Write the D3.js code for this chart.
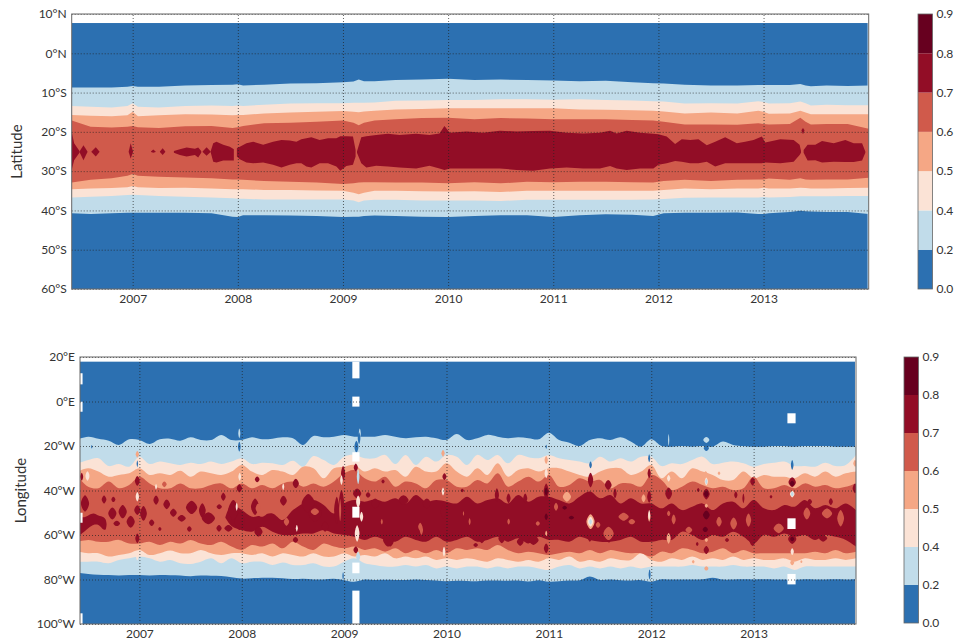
<!DOCTYPE html>
<html>
<head>
<meta charset="utf-8">
<script src="https://cdn.jsdelivr.net/npm/d3@7"></script>
<style>
  html, body { margin: 0; padding: 0; background: #fff; }
  text { font-family: Lato, "Open Sans", sans-serif; fill: #333; }
</style>
</head>
<body>
<div id="chart"></div>
<script>
const levels = ["0.0", "0.2", "0.4", "0.5", "0.6", "0.7", "0.8", "0.9"];
const bandColors = ["#2c70b1", "#c1dcea", "#fbe3d6", "#f5a785", "#d05a4b", "#920d26", "#67001f"];
const yearTicks = [2007, 2008, 2009, 2010, 2011, 2012, 2013];
const latTicks = [10, 0, -10, -20, -30, -40, -50, -60];
const lonTicks = [20, 0, -20, -40, -60, -80, -100];

// top panel, edge of each contour band in degrees latitude
const latYears = [2006.42, 2006.6, 2006.8, 2006.95, 2007, 2007.05, 2007.25, 2007.5, 2007.75, 2007.95,
  2008, 2008.05, 2008.25, 2008.5, 2008.75, 2009, 2009.1, 2009.15, 2009.2, 2009.3,
  2009.5, 2009.75, 2010, 2010.25, 2010.5, 2010.75, 2011, 2011.25, 2011.5, 2011.75,
  2011.95, 2012.05, 2012.25, 2012.5, 2012.75, 2012.95, 2013, 2013.05, 2013.25, 2013.35,
  2013.4, 2013.45, 2013.6, 2013.8, 2014];
const lat02N = [-8.7, -8.7, -8.7, -8.5, -8.3, -8.5, -8.5, -8.2, -8.1, -8.0,
  -7.9, -8.2, -8.0, -7.7, -7.6, -7.4, -7.2, -6.7, -7.1, -7.1,
  -6.8, -6.7, -6.5, -6.8, -6.7, -6.8, -6.9, -7.1, -7.0, -7.4,
  -7.6, -7.7, -8.0, -8.2, -8.2, -8.1, -8.1, -8.1, -8.1, -7.8,
  -8.2, -8.4, -8.2, -8.3, -8.2];
const lat04N = [-13.4, -13.6, -13.8, -13.4, -12.7, -13.6, -13.8, -13.4, -13.3, -13.4,
  -13.3, -13.4, -13.1, -12.8, -12.7, -12.7, -12.6, -12.6, -12.6, -12.5,
  -12.1, -12.0, -11.9, -11.9, -11.7, -11.7, -11.8, -11.7, -11.9, -12.0,
  -12.2, -12.3, -12.8, -12.7, -12.8, -12.2, -12.4, -12.8, -12.7, -12.3,
  -12.7, -13.3, -13.1, -13.2, -13.2];
const lat05N = [-15.7, -15.9, -16.0, -15.8, -14.9, -16.0, -15.8, -15.5, -15.6, -15.8,
  -15.7, -15.7, -15.3, -15.1, -14.9, -14.7, -14.9, -15.0, -14.8, -14.6,
  -14.3, -14.2, -14.0, -14.0, -14.0, -14.0, -14.0, -14.3, -14.4, -14.5,
  -14.6, -14.8, -15.3, -15.1, -15.3, -14.6, -14.9, -15.4, -15.3, -14.6,
  -15.1, -15.5, -15.5, -15.5, -15.5];
const lat06N = [-17.1, -18.7, -18.9, -18.7, -18.5, -18.8, -19.0, -18.6, -18.5, -19.0,
  -18.8, -18.5, -17.8, -17.7, -17.4, -17.1, -17.7, -18.3, -17.7, -17.1,
  -16.8, -16.5, -16.4, -16.8, -16.5, -16.6, -16.8, -16.8, -16.8, -17.0,
  -17.1, -17.4, -18.1, -18.1, -18.2, -17.8, -18.0, -18.1, -18.0, -16.4,
  -17.4, -18.1, -18.0, -18.0, -19.2];
const lat06S = [-32.9, -32.2, -31.8, -31.2, -30.7, -31.2, -31.4, -31.6, -31.8, -32.1,
  -32.1, -32.2, -32.5, -32.7, -32.9, -33.3, -33.1, -32.9, -32.8, -32.8,
  -32.9, -32.9, -33.1, -32.8, -33.1, -32.7, -32.8, -32.7, -32.7, -32.8,
  -32.9, -32.5, -32.2, -32.5, -32.2, -32.1, -32.1, -31.9, -32.2, -31.8,
  -32.1, -32.2, -32.1, -32.1, -31.7];
const lat05S = [-34.6, -34.4, -34.3, -34.1, -33.8, -34.1, -34.3, -34.2, -34.4, -34.6,
  -34.6, -34.6, -34.8, -34.8, -34.9, -35.0, -35.5, -35.9, -35.5, -35.0,
  -35.0, -35.1, -35.2, -35.1, -35.3, -35.0, -35.0, -35.0, -35.0, -35.0,
  -35.0, -34.8, -34.4, -34.6, -34.4, -34.4, -34.2, -34.4, -34.4, -34.2,
  -34.3, -34.4, -34.4, -34.3, -34.2];
const lat04S = [-36.7, -36.5, -36.3, -36.1, -36.0, -36.1, -36.3, -36.5, -36.7, -36.9,
  -37.0, -37.0, -37.2, -37.2, -37.2, -37.2, -37.5, -37.9, -37.5, -37.3,
  -37.3, -37.5, -37.5, -37.5, -37.6, -37.3, -37.3, -37.3, -37.3, -37.3,
  -37.2, -37.1, -36.8, -36.7, -36.7, -36.7, -36.6, -36.7, -36.6, -36.4,
  -36.4, -36.4, -36.4, -36.3, -36.3];
const lat02S = [-40.7, -40.9, -40.7, -40.6, -40.6, -40.6, -40.6, -40.6, -40.7, -41.6,
  -41.7, -41.2, -41.2, -41.3, -41.4, -41.7, -41.6, -41.6, -41.4, -41.3,
  -41.4, -41.6, -41.7, -41.4, -41.2, -41.2, -41.7, -41.2, -41.0, -41.1,
  -41.4, -40.7, -40.6, -40.6, -40.5, -40.9, -40.9, -40.7, -40.4, -40.1,
  -40.2, -40.3, -40.4, -40.4, -40.9];

// top panel, 0.7 contour pieces: [year, north edge, south edge]
const latCoreA = [[6.42, -19.9, -29.7], [6.443, -22.9, -27.2], [6.494, -24.9, -25.3]];
const latCoreB = [[6.494, -25, -25.1], [6.532, -23.4, -27.2], [6.57, -25, -25.1]];
const latCoreC = [[6.608, -25, -25.1], [6.649, -23.9, -26.3], [6.684, -25, -25.1]];
const latCoreD = [[6.962, -25, -25.1], [6.981, -22.9, -26.8], [7.003, -25, -25.1]];
const latCoreE = [[7.174, -25, -25.1], [7.196, -24.5, -25.3], [7.218, -25, -25.1]];
const latCoreF = [[7.259, -25, -25.1], [7.285, -24.2, -25.9], [7.31, -25, -25.1]];
const latCoreG = [[7.392, -24.9, -25.3], [7.449, -24.4, -25.9], [7.513, -24, -26.3], [7.592, -24.3, -25.9], [7.623, -24, -26.5], [7.652, -24.9, -25.3]];
const latCoreH = [[7.665, -25, -25.1], [7.703, -23.9, -26.1], [7.741, -25, -25.1]];
const latCoreI = [[7.741, -25, -25.1], [7.766, -22.9, -27.6], [7.797, -22.5, -27.8], [7.861, -23.3, -27.3], [7.924, -23.8, -27.3], [7.962, -24.4, -27.3]];
const latCoreJ = [[7.991, -24.2, -26.3], [8.019, -23.8, -27], [8.082, -22.9, -27.8], [8.146, -22.5, -28], [8.241, -23.3, -27.8],
  [8.335, -22.5, -28.4], [8.415, -22.1, -29.1], [8.494, -22.2, -28.4], [8.557, -22.5, -28], [8.604, -21.9, -28],
  [8.652, -21.6, -28.8], [8.699, -21.4, -29.1], [8.778, -22.1, -28], [8.858, -21.6, -28], [8.937, -21.6, -28.8],
  [8.975, -21.1, -29.9], [9.032, -21.1, -28.7], [9.095, -21.2, -28.4], [9.12, -24.6, -26.3]];
const latCoreK = [[9.133, -25, -25.3], [9.174, -21.4, -28], [9.222, -21.1, -29.1], [9.316, -20.8, -28.6], [9.427, -20.5, -28.8],
  [9.538, -20.8, -29.1], [9.696, -20.5, -29.3], [9.823, -20.8, -28.6], [9.918, -20.4, -29.3], [9.965, -18.5, -29.7],
  [10.016, -20.2, -29.3], [10.175, -19.9, -29.3], [10.333, -20.2, -29.3], [10.492, -19.7, -29.3], [10.651, -19.9, -29.7],
  [10.81, -19.8, -29.9], [10.968, -19.7, -29.3], [11.127, -20.2, -29.1], [11.286, -20.4, -29.3], [11.444, -20.2, -29.3],
  [11.54, -19.7, -28.7], [11.603, -20.4, -29.3], [11.698, -19.7, -29.7], [11.825, -20.2, -29.3], [11.952, -20.5, -29.3],
  [12, -20.6, -28.4], [12.079, -21.2, -28], [12.159, -23.1, -27.4], [12.222, -21.9, -27.6], [12.302, -22.1, -28],
  [12.381, -21.9, -28], [12.46, -23.4, -27.6], [12.54, -22.5, -28.8], [12.635, -21.4, -28], [12.746, -22.9, -28],
  [12.825, -22.5, -28], [12.905, -22.1, -28], [12.984, -21.2, -28], [13.016, -22.7, -27.8], [13.159, -21.9, -28],
  [13.286, -22.1, -27.6], [13.343, -23.3, -25.9], [13.356, -24.8, -25.3]];
const latCoreL = [[13.381, -24.6, -25.3], [13.419, -23.3, -27.3], [13.492, -23.3, -27.2], [13.556, -22.3, -27.8], [13.667, -22.9, -27.6],
  [13.778, -22.1, -27.7], [13.857, -22.9, -27.7], [13.937, -22.9, -27.3], [13.968, -25, -25.3]];
const latCoreDot = [[13.36, -19.6, -19.6], [13.375, -19, -20.6], [13.39, -19.6, -19.6]];

// bottom panel, contour edges in degrees longitude, every 0.1 year
const lonYears = [2006.4, 2006.5, 2006.6, 2006.7, 2006.8, 2006.9, 2007, 2007.1, 2007.2, 2007.3,
  2007.4, 2007.5, 2007.6, 2007.7, 2007.8, 2007.9, 2008, 2008.1, 2008.2, 2008.3,
  2008.4, 2008.5, 2008.6, 2008.7, 2008.8, 2008.9, 2009, 2009.1, 2009.2, 2009.3,
  2009.4, 2009.5, 2009.6, 2009.7, 2009.8, 2009.9, 2010, 2010.1, 2010.2, 2010.3,
  2010.4, 2010.5, 2010.6, 2010.7, 2010.8, 2010.9, 2011, 2011.1, 2011.2, 2011.3,
  2011.4, 2011.5, 2011.6, 2011.7, 2011.8, 2011.9, 2012, 2012.1, 2012.2, 2012.3,
  2012.4, 2012.5, 2012.6, 2012.7, 2012.8, 2012.9, 2013, 2013.1, 2013.2, 2013.3,
  2013.4, 2013.5, 2013.6, 2013.7, 2013.8, 2013.9, 2014];
const lon02N = [-17, -15.8, -16.7, -17.6, -19.5, -17, -17.3, -19.1, -17, -16.7,
  -17.6, -16.1, -17.3, -17.3, -15, -17.3, -17.3, -16.1, -17, -16.7,
  -16.1, -16.5, -19.5, -15.5, -16.1, -15.8, -15, -15.8, -15.8, -15.8,
  -15, -15.8, -16.5, -16.1, -15.8, -16.5, -17.3, -14.6, -17.3, -16.5,
  -15, -15.8, -16.5, -16.1, -16.5, -17, -14, -17.3, -18.5, -20,
  -17.3, -16.5, -17.3, -16.1, -18, -20.3, -17, -20, -20.3, -20,
  -20.3, -20, -20.3, -18, -19.5, -20, -20.3, -20.3, -20, -20,
  -20.3, -20, -20, -20, -20.3, -20.3, -20.3];
const lon04N = [-27.8, -26.3, -25.5, -29, -28.1, -29.3, -24.8, -28.1, -27, -27.8,
  -28.5, -27.5, -28.1, -27, -28.1, -27, -25.5, -28.1, -27.5, -27.8,
  -28.5, -26.6, -29.3, -24.5, -26.3, -28.5, -24.8, -24, -25.5, -25.5,
  -24, -28.1, -24, -28.5, -24.8, -27, -24, -24.8, -28.5, -24,
  -26.3, -24, -27.8, -24, -25, -25.5, -24, -25.5, -26.3, -27,
  -27.8, -24.8, -27, -25.5, -27, -24.8, -24.8, -29, -27.8, -28.1,
  -26.3, -24.8, -28.1, -27.5, -27, -27.8, -29.3, -28.1, -27.5, -27,
  -29, -29, -29.3, -27.5, -29, -28.5, -24];
const lon05N = [-31.5, -30, -31.5, -33.8, -33, -32.3, -30, -33, -32.3, -33,
  -31.1, -33.8, -31.5, -32.3, -33, -31.5, -28.5, -31.5, -33, -30.8,
  -31.5, -33, -29.3, -30, -34.5, -30, -29.3, -28.5, -31.5, -30,
  -31.5, -30.8, -33.8, -29.3, -31.5, -31.5, -27.8, -31.5, -33.8, -30,
  -33, -27.8, -33.8, -30.8, -30, -31.5, -30, -30, -31.5, -33,
  -33.8, -31.5, -30, -30, -33, -31.5, -28.5, -34.5, -31.5, -34.5,
  -30, -31.5, -33, -35.3, -35.3, -31.5, -34.5, -33, -33.8, -33.8,
  -34.5, -32.3, -33.8, -31.5, -33.8, -32.3, -31.5];
const lon06N = [-33.8, -38.3, -39, -36, -39, -37.5, -33.8, -36.8, -39, -39,
  -36.8, -39, -39, -37.5, -36.8, -39, -36.8, -39, -37.5, -39,
  -36.8, -36, -38.3, -36.8, -38.3, -36, -32.3, -30.8, -34.5, -36,
  -33.8, -38.3, -36, -36.8, -39, -35.3, -35.3, -38.3, -38.3, -35.3,
  -36.8, -32.3, -38.3, -36, -33.8, -36, -33, -38.3, -37.5, -34.5,
  -36, -35.3, -39, -36.8, -36.8, -38.3, -33, -35.3, -39.8, -38.3,
  -36, -37.5, -39, -38.3, -39.8, -39, -33.8, -39, -39, -37.5,
  -39, -36.8, -38.3, -37.5, -39, -38.3, -36.8];
const lon06S = [-63, -62.2, -63, -63, -62.2, -63.8, -63.8, -63, -64.5, -63,
  -63.8, -62.2, -63.8, -64.5, -63, -65.2, -66.7, -64.5, -65.2, -63.8,
  -66, -63, -65.2, -66.7, -63.8, -65.2, -66, -65.2, -66.7, -66,
  -67.5, -66, -68.2, -66.7, -68.2, -66.7, -68.2, -66, -66.7, -66,
  -66.7, -64.5, -66.7, -68.2, -67.5, -68.2, -69, -68.2, -67.5, -68.2,
  -66.7, -68.2, -66.7, -67.5, -68.2, -68.2, -69.7, -67.5, -68.2, -66,
  -66.7, -68.2, -67.5, -66, -68.2, -66.7, -68.2, -68.2, -68.2, -68.2,
  -68.2, -68.2, -67.5, -68.2, -66.7, -68.2, -67.5];
const lon05S = [-67.5, -68.2, -68.2, -69.7, -69, -68.2, -66.7, -69, -68.2, -67,
  -68.2, -68.2, -66.7, -68.2, -69, -68.2, -68.2, -69, -68.2, -69.7,
  -68.2, -69, -69.7, -68.2, -69.7, -69.7, -68.2, -69.7, -69, -69.7,
  -68.2, -70.5, -69.7, -70.5, -69.7, -71.2, -70.5, -71.2, -70.5, -71.2,
  -72, -70.5, -71.2, -72, -71.2, -72, -70.5, -71.2, -69.7, -72,
  -71.2, -72, -70.5, -71.2, -71.2, -68.2, -71.2, -72, -70.5, -71.2,
  -69.7, -71.2, -70.5, -71.2, -69.7, -71.2, -70.5, -71.2, -71.2, -70.5,
  -72, -70.5, -71.2, -71.2, -70.5, -71.2, -70.5];
const lon04S = [-72, -72, -72, -72.7, -71.2, -70.5, -69.7, -70.5, -72, -71.2,
  -72.7, -73, -72, -70.5, -72.7, -70.5, -72.7, -72, -72, -73.5,
  -72.4, -73.5, -73.5, -72.7, -74.2, -74.2, -72, -70.5, -72.7, -73.5,
  -74.2, -74.2, -73.5, -74.2, -73.5, -75, -74.2, -75, -74.2, -74.2,
  -75, -74.2, -75, -74.2, -74.2, -75, -75.7, -74.2, -73.5, -75,
  -74.2, -75, -74.2, -75, -74.2, -75, -74.2, -74.2, -74.2, -74.2,
  -73.5, -74.2, -74.2, -74.2, -73.5, -74.2, -74.2, -74.2, -75, -74.2,
  -75.7, -74.2, -74.2, -74.2, -74.2, -74.2, -74.2];
const lon02S = [-77, -77.5, -77.9, -78, -78.2, -78, -78, -78.2, -78, -78.1,
  -78.2, -78.5, -78.2, -78.3, -78.4, -79, -79.6, -79.4, -79.2, -79.2,
  -79.4, -79.8, -79.7, -80, -80, -79.7, -80.3, -81, -80, -80.2,
  -80.1, -80.2, -80.2, -80, -80.2, -80.5, -80.8, -80.6, -80.7, -80.8,
  -80.5, -80.4, -80.6, -80.5, -80.9, -80.3, -81, -80.8, -80.5, -80.3,
  -78.6, -80.2, -80, -80.3, -80.4, -80.3, -81, -79.9, -80, -80,
  -80, -79.9, -79.2, -80, -80, -79.9, -80, -79.9, -80, -80,
  -80.1, -79.9, -80, -80, -79.9, -80, -79.9];

// bottom panel, 0.7 contour strands: [year, north edge, south edge]
const lonCoreEarly = [[6.42, -51.8, -60], [6.46, -52, -58.5], [6.55, -50.3, -55.5], [6.6, -51.2, -55.5], [6.65, -52, -57.5], [6.67, -53, -57.5], [6.68, -55, -55.1]];
const lonCoreMain = [[7.84, -52, -52.2], [7.9, -46.5, -55.9], [8, -48.8, -57.8], [8.1, -51.8, -58.5], [8.2, -51, -56.3],
  [8.3, -50.3, -58.5], [8.4, -53.3, -60], [8.5, -48.8, -60], [8.6, -45.8, -59.3], [8.7, -44.3, -59.3],
  [8.8, -46.5, -57.8], [8.9, -50.3, -59.3], [9, -45.8, -60], [9.1, -44.3, -60.8], [9.2, -45, -62.2],
  [9.3, -44, -60.8], [9.4, -45, -62.2], [9.5, -43.5, -63], [9.6, -45.8, -60.8], [9.7, -42, -62.2],
  [9.8, -45, -63], [9.9, -44.3, -60.8], [10, -45, -63], [10.1, -45.8, -62.2], [10.2, -42.8, -60.8],
  [10.3, -45.8, -63], [10.4, -44.3, -62.2], [10.5, -43.5, -60.8], [10.6, -45.8, -63], [10.7, -42, -61.5],
  [10.8, -45, -63.8], [10.9, -42.8, -60.8], [11, -42.8, -62.2], [11.1, -44.3, -62.2], [11.2, -45.8, -63],
  [11.3, -42.8, -60.8], [11.4, -40.5, -62.2], [11.5, -43.5, -63], [11.6, -42, -63], [11.7, -45.8, -62.2],
  [11.8, -43.5, -60.8], [11.9, -45.8, -63], [12, -45.8, -63], [12.1, -48, -62.2], [12.2, -45.8, -62.2],
  [12.3, -48.8, -58.5], [12.4, -47.3, -60], [12.5, -45.8, -62.2], [12.6, -48.8, -60], [12.7, -45.8, -60.8],
  [12.8, -45, -58.5], [12.9, -48, -60.8], [13, -44.3, -63.8], [13.1, -48, -60], [13.2, -48.8, -60.8],
  [13.3, -46.5, -59.3], [13.4, -47.3, -60.8], [13.5, -44.3, -60], [13.6, -48, -62.2], [13.7, -46.5, -60],
  [13.8, -48, -60.8], [13.9, -45.8, -62.2], [14, -48.8, -65.2]];

// isolated contour patches: [year, longitude, half width in years, half height in degrees]
const patches07 = [[6.469, -45.8, .04, 3.7], [6.437, -33.8, .014, 1.8], [6.655, -44, .023, 1.8], [6.746, -44, .02, 1.2], [6.736, -50.3, .04, 2.7],
  [6.837, -49.5, .04, 3], [6.779, -54.8, .033, 1.2], [6.915, -54, .04, 2.7], [6.98, -48.8, .03, 2.2], [6.98, -35.7, .023, 2.2], [6.98, -61.5, .02, 2.2],
  [7.04, -50.3, .033, 3.3], [7.163, -44.3, .026, 2.1], [7.267, -46.2, .033, 2.2], [7.332, -50, .033, 1.8], [7.12, -54.5, .026, 1.5],
  [7.413, -52.5, .04, 1.5], [7.2, -57.3, .016, .9], [7.51, -47.6, .055, 3], [7.488, -57.3, .023, 1.2], [7.615, -49, .033, 3.3],
  [7.674, -52.5, .065, 2.7], [7.78, -47.3, .026, 1.1], [7.778, -57, .026, 1.5], [7.82, -42.8, .023, 1.8], [7.87, -57, .04, 1.5],
  [7.918, -48.8, .05, 4.5], [7.98, -54, .05, 3.7], [7.977, -39, .026, 1.8], [8.151, -35, .023, 1.3], [8.13, -47.3, .04, 3.7],
  [8.163, -58.5, .04, 2.2], [8.407, -44.6, .033, 2.2], [8.528, -36.8, .03, 2.1], [8.65, -45.8, .065, 4.2], [8.717, -50.3, .065, 3.7],
  [8.525, -62.2, .026, 1.3], [8.814, -56.3, .033, 2.2], [8.928, -48.8, .026, 6], [8.974, -45.8, .026, 6], [8.99, -32.3, .02, 3.3],
  [9.114, -29.7, .02, 1.8], [9.127, -41.3, .04, 2.2], [9.114, -66.7, .023, 1.5], [9.234, -42, .023, 1.2], [9.303, -45.8, .04, 2.2],
  [9.38, -36, .016, .9], [9.45, -63, .033, 2.2], [9.58, -44.3, .05, 2.2], [9.808, -45.8, .04, 2.2], [9.97, -49.5, .026, 3],
  [9.98, -33.8, .02, 1.5], [9.43, -62.2, .05, 3], [10.154, -40, .016, .8], [10.285, -64.5, .023, .9], [10.345, -61.5, .033, 2.2],
  [10.492, -42, .02, 3], [10.54, -61.5, .033, 2.2], [10.606, -43.5, .02, 2.2], [10.72, -63, .033, 1.8], [10.769, -43.5, .02, 2.2],
  [10.85, -62.3, .05, 2.2], [10.974, -40.5, .026, 3.7], [10.974, -66, .023, 2.2], [11.407, -35.3, .026, 3.3], [11.58, -37.5, .033, 2.2],
  [11.646, -41.3, .016, 2.2], [11.4, -61.5, .02, 1.5], [11.587, -62.2, .016, 1.2], [11.98, -32.3, .016, 2.2], [11.98, -42.8, .02, 2.7],
  [12.17, -41.3, .033, 2.7], [12.459, -39.8, .013, .9], [12.449, -64, .013, .9], [12.538, -41.6, .033, 2.4], [12.538, -66.7, .026, 1.8],
  [12.74, -62.2, .02, .9], [12.826, -42, .016, 1.5], [12.9, -43.5, .01, 2.2], [12.99, -36, .023, 1.8], [12.99, -62.2, .033, 2.7],
  [13.17, -42.8, .013, .8], [13.377, -36.3, .036, 2.2], [13.377, -61.8, .04, 2.2], [13.548, -45, .023, 1.2], [13.754, -45, .02, 1.5],
  [13.679, -61.5, .04, 1.5], [13.99, -39, .023, 2.2]];
const patches06 = [[7.244, -37.2, .023, 1.3], [8.161, -48, .026, 2.2], [8.195, -50.3, .05, 1.5], [8.437, -54, .026, 1.8], [8.714, -49.5, .04, 1.5],
  [8.961, -48.8, .01, 5], [9.368, -54, .01, 1.2], [9.743, -56.3, .02, 1.8], [9.755, -57.8, .016, 2.2], [10.166, -50.3, .006, 1], [10.226, -54, .01, 1.5],
  [10.607, -54, .013, 1.3], [10.892, -54.8, .02, 1], [11.07, -47.3, .02, 1.8], [11.48, -55.5, .023, 1.3], [11.583, -59.3, .05, 3],
  [11.73, -51.8, .05, 1.8], [11.81, -54, .033, 1.2], [12.17, -50.3, .016, 1.2], [12.219, -53, .02, 2.2], [12.367, -57.8, .033, 1.5],
  [12.662, -54, .026, 2.2], [12.805, -54.8, .033, 2.7], [12.95, -53.3, .026, 3], [13.245, -57, .05, 2.2], [13.52, -50.3, .033, 2.7],
  [13.717, -50.3, .05, 2.2], [13.85, -52.5, .033, 3.7]];
const patches08 = [[10.974, -40.5, .016, 1.8], [10.974, -51.8, .016, 1.5], [11.154, -47.7, .023, .9], [11.22, -52.2, .026, .8], [12.528, -57.5, .026, 1.2],
  [12.538, -41.6, .023, 1.5], [12.538, -51, .033, 2], [13.377, -36.8, .023, 1.2], [13.377, -61.8, .02, 1]];
const patches05 = [[6.98, -23.7, .016, 1.5], [9.966, -23.3, .016, 1.5], [10.974, -26.3, .016, 1.8], [10.974, -59.3, .01, 1.2], [11.176, -42.8, .04, 2.2],
  [11.407, -54, .04, 3.3], [11.754, -69.4, .013, .8], [11.925, -43.5, .02, 1.8], [11.98, -51.8, .013, 2.2], [12.17, -61.5, .02, 2.4],
  [12.41, -72, .013, .8], [12.531, -32.3, .016, .9], [12.538, -62.2, .016, .9], [12.538, -46.8, .016, .9], [12.538, -75, .02, 1],
  [12.662, -32.3, .013, .8], [13.3, -69.7, .013, .9], [13.377, -72.4, .02, 1.2], [13.466, -72, .01, .6], [13.99, -27.8, .016, 1.5]];
const patches04 = [[6.493, -33.5, .02, 2.1], [6.98, -42.8, .016, 2.1], [6.98, -69.7, .013, 1.8], [7.163, -38.3, .01, 1.2], [7.951, -47.3, .01, 1.8],
  [7.98, -33.8, .013, 1.8], [8.405, -38.3, .01, 1.5], [8.538, -57, .01, 1.5], [8.974, -35.3, .013, 2.2], [9.127, -59.3, .023, 3.7],
  [9.137, -45, .02, 2.7], [9.17, -51.8, .016, 2.2], [9.966, -40.5, .013, 1.8], [9.976, -67.5, .013, 2.2], [10.974, -32.3, .016, 2.2],
  [10.974, -72.4, .016, 1.8], [11.407, -54, .027, 2.2], [11.98, -51, .01, 2.2], [12.17, -34.5, .016, 1.5], [12.538, -36, .016, 1.8],
  [13.377, -41.6, .023, 1.5], [13.377, -67.5, .016, 1.5]];
const patches02 = [[7.976, -14.3, .01, 2.2], [9.137, -33.8, .013, 3.3], [9.137, -69.7, .02, 2.2], [9.153, -14.3, .01, 2.2], [11.407, -54, .013, 1.2],
  [12.17, -17.3, .006, 2.7], [12.538, -17.3, .03, 1.3], [12.538, -36, .01, 1.2], [13.377, -41.6, .013, 1]];
const patches00 = [[6.535, -20.3, .007, .8], [6.98, -28, .007, 1.5], [7.976, -20.3, .013, 2.2], [8.99, -78.4, .007, 1.8], [9.12, -20.3, .02, 2.7],
  [9.146, -16.5, .013, 2.7], [10.974, -20.3, .007, .9], [11.407, -28.5, .013, 1.5], [11.98, -25.5, .01, 1.8], [11.984, -77.7, .01, 2.2],
  [12.538, -21, .026, 1.2], [13.377, -28.5, .013, 2.2]];

// missing data in the bottom panel: [from year, to year, north, south]
const lonGaps = [[2006.42, 2006.445, 12.7, 7.7], [2006.42, 2006.445, -0.1, -4.6], [2006.42, 2006.445, -50, -54.5], [2006.42, 2006.445, -95.2, -100],
  [2009.08, 2009.15, 17.9, 10.4], [2009.08, 2009.15, 2.2, -2.3], [2009.08, 2009.15, -22.8, -27], [2009.08, 2009.15, -47.3, -52.2],
  [2009.08, 2009.15, -72.4, -77.2], [2009.08, 2009.15, -85, -100],
  [2013.33, 2013.41, -5.3, -9.8], [2013.33, 2013.41, -52.5, -57.3], [2013.33, 2013.41, -77.5, -82.2]];

const svg = d3.select("#chart").append("svg").attr("width", 954).attr("height", 643);

function latLabel(d) {
    if (d > 0) return `${d}°N`;
    if (d === 0) return "0°N";
    return `${-d}°S`;
}

function lonLabel(d) {
    if (d >= 0) return `${d}°E`;
    return `${-d}°W`;
}

function rows(edgeN, edgeS, years) {
    return years.map((t, i) => [t, edgeN[i], edgeS[i]]);
}

function drawPanel(box, yDomain, yTicks, yFormat, title, titleX, id, bandCurve) {
    const x = d3.scaleLinear().domain([2006.42, 2014]).range([box.left, box.right]);
    const y = d3.scaleLinear().domain(yDomain).range([box.top, box.bottom]);
    const g = svg.append("g");

    svg.append("clipPath").attr("id", id).append("rect")
        .attr("x", box.left).attr("y", box.top)
        .attr("width", box.right - box.left).attr("height", box.bottom - box.top);
    const plot = g.append("g").attr("clip-path", `url(#${id})`);

    const band = d3.area()
        .curve(bandCurve)
        .x(d => x(d[0] < 2000 ? d[0] + 2000 : d[0]))
        .y0(d => y(d[1]))
        .y1(d => y(d[2]));

    const addBand = (data, color) => plot.append("path")
        .attr("d", band(data)).attr("fill", color);

    const patchLine = d3.line().curve(d3.curveCatmullRomClosed.alpha(0.5));
    const addPatches = (data, color) => plot.append("g").selectAll("path")
        .data(data).enter().append("path")
        .attr("fill", color)
        .attr("d", d => {
            const t = d[0] + 2000;
            return patchLine([
                [x(t - d[2]), y(d[1])], [x(t), y(d[1] + d[3])],
                [x(t + d[2]), y(d[1])], [x(t), y(d[1] - d[3])]
            ]);
        });

    // grid and tick labels come from the axes
    const drawAxes = () => {
        const xAxis = g.append("g")
            .attr("transform", `translate(0, ${box.bottom})`)
            .call(d3.axisBottom(x).tickValues(yearTicks).tickFormat(d3.format("d"))
                .tickSize(box.top - box.bottom));
        const yAxis = g.append("g")
            .attr("transform", `translate(${box.left}, 0)`)
            .call(d3.axisLeft(y).tickValues(yTicks).tickFormat(yFormat)
                .tickSize(box.left - box.right));
        [xAxis, yAxis].forEach(a => {
            a.select(".domain").remove();
            a.selectAll("line").attr("stroke", "#222").attr("stroke-width", 0.7).attr("stroke-dasharray", "1,2");
            a.selectAll("text").style("font-size", "12px").attr("fill", "#333");
        });
        xAxis.selectAll("text").attr("y", 5).attr("dy", "0.71em");
        yAxis.selectAll("text").attr("x", -5);

        g.append("rect")
            .attr("x", box.left).attr("y", box.top)
            .attr("width", box.right - box.left).attr("height", box.bottom - box.top)
            .attr("fill", "none").attr("stroke", "#666").attr("stroke-width", 1);

        g.append("text")
            .attr("transform", `translate(${titleX}, ${(box.top + box.bottom) / 2}) rotate(-90)`)
            .attr("text-anchor", "middle")
            .style("font-size", "15px")
            .text(title);
    };

    return { x, y, plot, addBand, addPatches, drawAxes };
}

function drawColorbar(left, top, bottom) {
    const y = d3.scalePoint().domain(levels).range([bottom, top]);
    const g = svg.append("g");
    bandColors.forEach((c, i) => {
        g.append("rect")
            .attr("x", left).attr("width", 14.5)
            .attr("y", y(levels[i + 1]))
            .attr("height", y(levels[i]) - y(levels[i + 1]))
            .attr("fill", c);
    });
    g.append("rect")
        .attr("x", left).attr("y", top).attr("width", 14.5).attr("height", bottom - top)
        .attr("fill", "none").attr("stroke", "#666").attr("stroke-width", 0.8);
    const axis = g.append("g")
        .attr("transform", `translate(${left + 14.5}, 0)`)
        .call(d3.axisRight(y).tickSize(0).tickPadding(4));
    axis.select(".domain").remove();
    axis.selectAll("text").style("font-size", "12px").attr("fill", "#333");
}

// top panel
const latPanel = drawPanel({ left: 71.7, right: 868.7, top: 14, bottom: 289 },
    [10, -60], latTicks, latLabel, "Latitude", 22, "clipLat", d3.curveLinear);
latPanel.plot.append("rect")
    .attr("x", latPanel.x(2006.42)).attr("width", latPanel.x(2013.99) - latPanel.x(2006.42))
    .attr("y", latPanel.y(7.7)).attr("height", latPanel.y(-60) - latPanel.y(7.7))
    .attr("fill", bandColors[0]);
latPanel.addBand(rows(lat02N, lat02S, latYears), bandColors[1]);
latPanel.addBand(rows(lat04N, lat04S, latYears), bandColors[2]);
latPanel.addBand(rows(lat05N, lat05S, latYears), bandColors[3]);
latPanel.addBand(rows(lat06N, lat06S, latYears), bandColors[4]);
[latCoreA, latCoreB, latCoreC, latCoreD, latCoreE, latCoreF, latCoreG, latCoreH, latCoreI, latCoreJ, latCoreK, latCoreL, latCoreDot]
    .forEach(piece => latPanel.addBand(piece, bandColors[5]));
latPanel.drawAxes();

// bottom panel
const lonPanel = drawPanel({ left: 80, right: 856, top: 357, bottom: 624 },
    [20, -100], lonTicks, lonLabel, "Longitude", 26, "clipLon", d3.curveCatmullRom.alpha(0.5));
lonPanel.plot.append("rect")
    .attr("x", lonPanel.x(2006.42)).attr("width", lonPanel.x(2013.99) - lonPanel.x(2006.42))
    .attr("y", lonPanel.y(17.9)).attr("height", lonPanel.y(-100) - lonPanel.y(17.9))
    .attr("fill", bandColors[0]);
lonPanel.addBand(rows(lon02N, lon02S, lonYears), bandColors[1]);
lonPanel.addBand(rows(lon04N, lon04S, lonYears), bandColors[2]);
lonPanel.addBand(rows(lon05N, lon05S, lonYears), bandColors[3]);
lonPanel.addBand(rows(lon06N, lon06S, lonYears), bandColors[4]);
lonPanel.addBand(lonCoreEarly, bandColors[5]);
lonPanel.addBand(lonCoreMain, bandColors[5]);
lonPanel.addPatches(patches07, bandColors[5]);
lonPanel.addPatches(patches06, bandColors[4]);
lonPanel.addPatches(patches08, bandColors[6]);
lonPanel.addPatches(patches05, bandColors[3]);
lonPanel.addPatches(patches04, bandColors[2]);
lonPanel.addPatches(patches02, bandColors[1]);
lonPanel.addPatches(patches00, bandColors[0]);
lonPanel.plot.append("g").selectAll("rect")
    .data(lonGaps).enter().append("rect")
    .attr("x", d => lonPanel.x(d[0]))
    .attr("width", d => lonPanel.x(d[1]) - lonPanel.x(d[0]))
    .attr("y", d => lonPanel.y(d[2]))
    .attr("height", d => lonPanel.y(d[3]) - lonPanel.y(d[2]))
    .attr("fill", "#fff");
lonPanel.drawAxes();

drawColorbar(918, 14, 289);
drawColorbar(904, 357, 623);
</script>
</body>
</html>
